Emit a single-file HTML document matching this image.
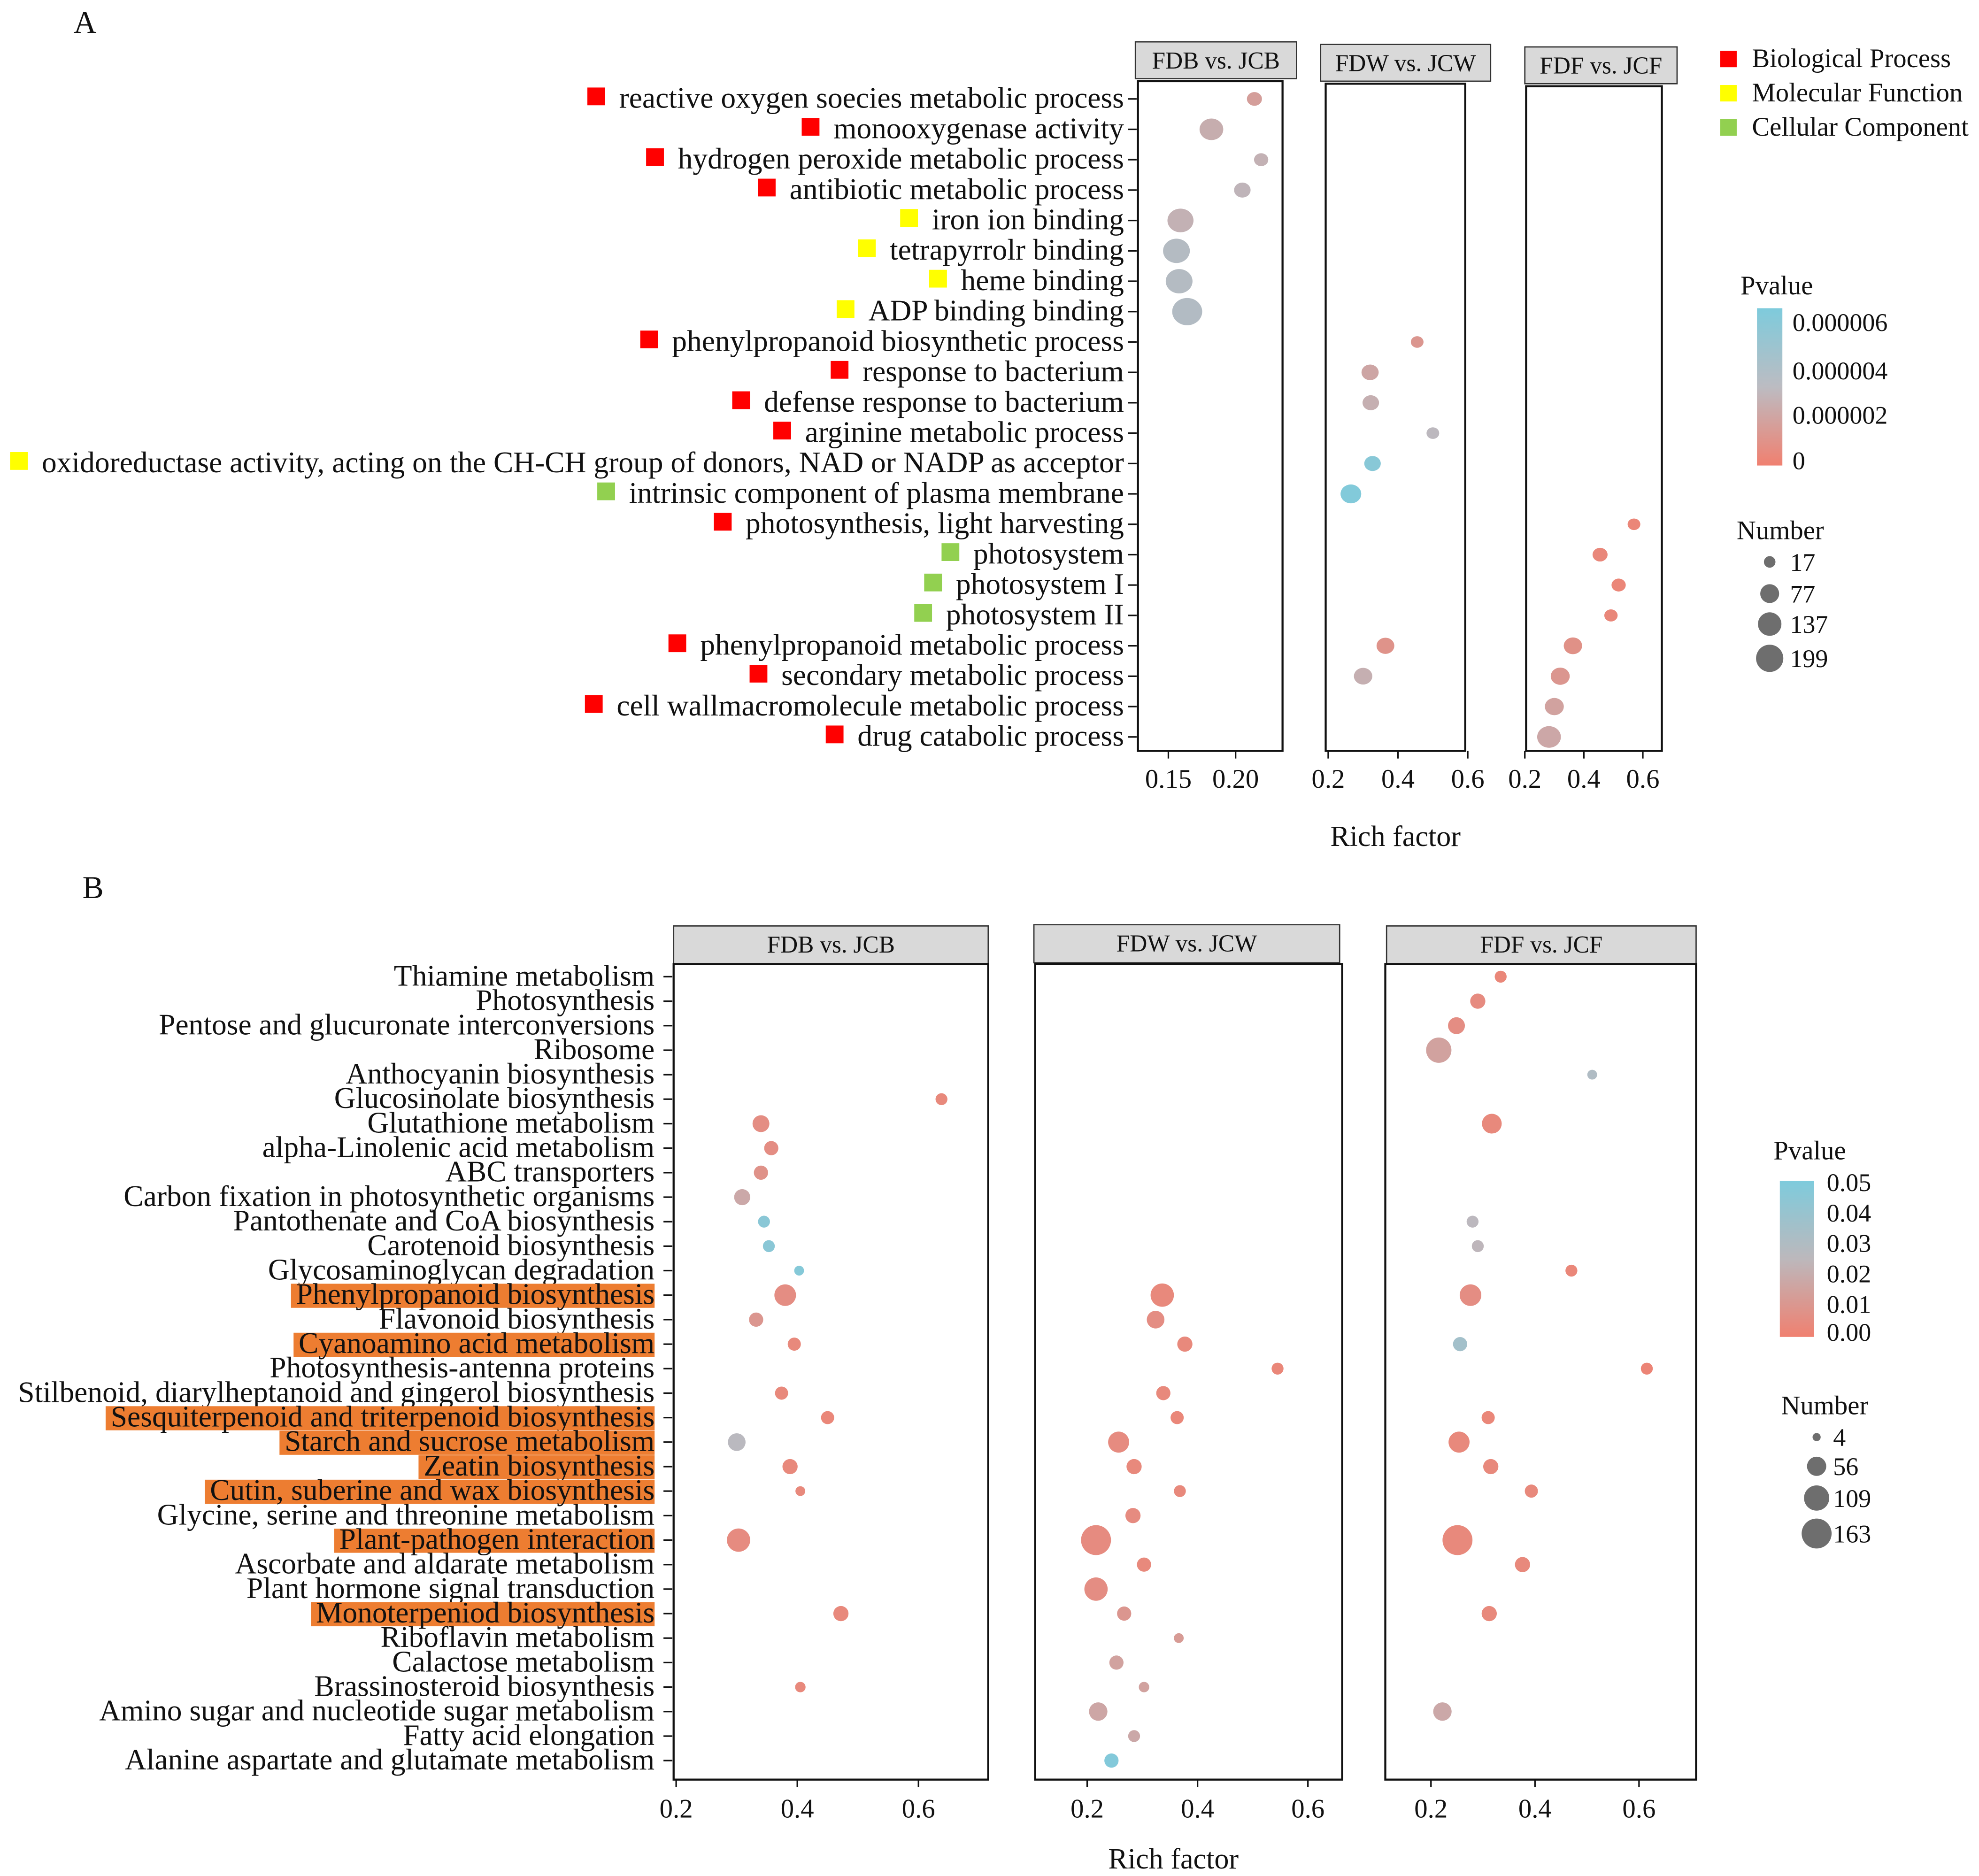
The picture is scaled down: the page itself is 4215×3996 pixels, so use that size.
<!DOCTYPE html>
<html><head><meta charset="utf-8"><style>
html,body{margin:0;padding:0;background:#fff}
svg{display:block}
text{font-family:"Liberation Serif",serif;fill:#111}
</style></head><body>
<svg id="chart" xmlns="http://www.w3.org/2000/svg" width="4215" height="3996" viewBox="0 0 1560 1479" preserveAspectRatio="none">
<rect x="0" y="0" width="1560" height="1479" fill="#fff"/>
<defs>
<linearGradient id="gradA" x1="0" y1="0" x2="0" y2="1"><stop offset="0" stop-color="#7ecbdc"/><stop offset="0.5" stop-color="#bcbcc2"/><stop offset="1" stop-color="#f08070"/></linearGradient>
<linearGradient id="gradB" x1="0" y1="0" x2="0" y2="1"><stop offset="0" stop-color="#7ecbdc"/><stop offset="0.5" stop-color="#bcb8bc"/><stop offset="1" stop-color="#f08070"/></linearGradient>
</defs>
<g id="panelA"></g>
<g id="panelB"></g>
</svg>
<script>
// ---------- Panel A data ----------
const aTerms = ["reactive oxygen soecies metabolic process","monooxygenase activity","hydrogen peroxide metabolic process","antibiotic metabolic process","iron ion binding","tetrapyrrolr binding","heme binding","ADP binding binding","phenylpropanoid biosynthetic process","response to bacterium","defense response to bacterium","arginine metabolic process","oxidoreductase activity, acting on the CH-CH group of donors, NAD or NADP as acceptor","intrinsic component of plasma membrane","photosynthesis, light harvesting","photosystem","photosystem I","photosystem II","phenylpropanoid metabolic process","secondary metabolic process","cell wallmacromolecule metabolic process","drug catabolic process"];
const aCategory = ["BP","BP","BP","BP","MF","MF","MF","MF","BP","BP","BP","BP","MF","CC","BP","CC","CC","CC","BP","BP","BP","BP"];
const aFacets = ["FDB vs. JCB","FDW vs. JCW","FDF vs. JCF"];
const aFacetIdx = [0,0,0,0,0,0,0,0,1,1,1,1,1,1,2,2,2,2,1,2,1,2,2,2];
const aTermIdx  = [0,1,2,3,4,5,6,7,8,9,10,11,12,13,14,15,16,17,18,18,19,19,20,21];
const aRich     = [0.214,0.182,0.219,0.205,0.159,0.156,0.158,0.164,0.455,0.32,0.322,0.50,0.327,0.265,0.57,0.455,0.518,0.492,0.364,0.363,0.30,0.32,0.30,0.282];
const aNumber   = [30,110,25,40,140,150,150,199,17,45,40,17,40,77,17,30,25,20,50,55,55,60,60,110];
const aPvalue   = [1.6,2.4,2.6,2.8,2.6,3.4,3.4,3.5,1.2,2.0,2.5,3.0,5.5,5.8,0.3,0.4,0.3,0.4,1.0,0.9,2.5,1.2,1.8,2.1];
const aXTicks = [[0.15,0.20],[0.2,0.4,0.6],[0.2,0.4,0.6]];
const aXTickLabels = [["0.15","0.20"],["0.2","0.4","0.6"],["0.2","0.4","0.6"]];
const aSizeLegend = [17,77,137,199];
const aPLegend = ["0.000006","0.000004","0.000002","0"];

// ---------- Panel B data ----------
const bTerms = ["Thiamine metabolism","Photosynthesis","Pentose and glucuronate interconversions","Ribosome","Anthocyanin biosynthesis","Glucosinolate biosynthesis","Glutathione metabolism","alpha-Linolenic acid metabolism","ABC transporters","Carbon fixation in photosynthetic organisms","Pantothenate and CoA biosynthesis","Carotenoid biosynthesis","Glycosaminoglycan degradation","Phenylpropanoid biosynthesis","Flavonoid biosynthesis","Cyanoamino acid metabolism","Photosynthesis-antenna proteins","Stilbenoid, diarylheptanoid and gingerol biosynthesis","Sesquiterpenoid and triterpenoid biosynthesis","Starch and sucrose metabolism","Zeatin biosynthesis","Cutin, suberine and wax biosynthesis","Glycine, serine and threonine metabolism","Plant-pathogen interaction","Ascorbate and aldarate metabolism","Plant hormone signal transduction","Monoterpeniod biosynthesis","Riboflavin metabolism","Calactose metabolism","Brassinosteroid biosynthesis","Amino sugar and nucleotide sugar metabolism","Fatty acid elongation","Alanine aspartate and glutamate metabolism"];
const bHighlight = [13,15,18,19,20,21,23,26];
const bFacets = ["FDB vs. JCB","FDW vs. JCW","FDF vs. JCF"];
const bFacetIdx = [2,2,2,2,2, 0, 0,2, 0,0,0, 0,2, 0,2, 0,2, 0,1,2, 0,1, 0,1,2, 1,2, 0,1, 0,1,2, 0,1,2, 0,1,2, 0,1,2, 1, 0,1,2, 1,2, 1, 0,1,2, 1, 1, 0,1, 1,2, 1, 1];
const bTermIdx  = [0,1,2,3,4, 5, 6,6, 7,8,9, 10,10, 11,11, 12,12, 13,13,13, 14,14, 15,15,15, 16,16, 17,17, 18,18,18, 19,19,19, 20,20,20, 21,21,21, 22, 23,23,23, 24,24, 25, 26,26,26, 27, 28, 29,29, 30,30, 31, 32];
const bRich     = [0.334,0.29,0.249,0.215,0.51, 0.638, 0.34,0.317, 0.357,0.34,0.309, 0.345,0.28, 0.353,0.29, 0.403,0.47, 0.38,0.336,0.276, 0.332,0.324, 0.395,0.377,0.256, 0.545,0.615, 0.374,0.338, 0.45,0.363,0.31, 0.30,0.257,0.254, 0.388,0.285,0.315, 0.405,0.368,0.393, 0.283, 0.303,0.216,0.251, 0.303,0.376, 0.216, 0.472,0.267,0.312, 0.366, 0.253, 0.405,0.303, 0.22,0.222, 0.285, 0.244];
const bNumber   = [15,30,40,110,8, 15, 40,60, 25,25,35, 15,15, 15,15, 8,15, 75,90,75, 25,45, 20,30,25, 15,15, 20,25, 20,20,20, 45,70,70, 30,30,30, 8,15,20, 30, 90,163,163, 25,30, 90, 30,25,30, 8, 25, 10,10, 50,50, 15, 25];
const bPvalue   = [0.003,0.005,0.006,0.015,0.03, 0.004, 0.006,0.004, 0.006,0.008,0.018, 0.045,0.025, 0.045,0.024, 0.047,0.003, 0.006,0.004,0.006, 0.01,0.006, 0.004,0.004,0.035, 0.003,0.002, 0.004,0.004, 0.003,0.003,0.003, 0.026,0.005,0.004, 0.004,0.004,0.004, 0.004,0.004,0.004, 0.005, 0.005,0.005,0.004, 0.004,0.004, 0.006, 0.004,0.01,0.004, 0.012, 0.015, 0.004,0.015, 0.017,0.018, 0.018, 0.048];
const bXTickLabels = ["0.2","0.4","0.6"];
const bXTicks = [0.2,0.4,0.6];
const bSizeLegend = [4,56,109,163];
const bPLegend = ["0.05","0.04","0.03","0.02","0.01","0.00"];

// ---------- helpers ----------
const NS="http://www.w3.org/2000/svg";
function mk(parent,tag,attrs,txt){const e=document.createElementNS(NS,tag);for(const k in attrs)e.setAttribute(k,attrs[k]);if(txt!==undefined)e.textContent=txt;parent.appendChild(e);return e;}
function lin(d0,d1,r0,r1){return v=>r0+(v-d0)*(r1-r0)/(d1-d0);}
function mix(c1,c2,t){const a=[1,3,5].map(i=>parseInt(c1.substr(i,2),16)),b=[1,3,5].map(i=>parseInt(c2.substr(i,2),16));return "rgb("+a.map((x,i)=>Math.round(x+(b[i]-x)*t)).join(",")+")";}
function pcolor(t){t=Math.max(0,Math.min(1,t));return t<0.5?mix("#f08070","#bcb8be",t*2):mix("#bcb8be","#7ecbdc",(t-0.5)*2);}

// ---------- Panel A ----------
const A=document.getElementById('panelA');
let t=mk(A,'text',{x:58,y:26,'font-size':25});


t.textContent='A';
const aRowY=lin(0,21,78,581);
const aBox=[{x0:897,x1:1011,strip:[895,1022],y0:64,strY:33},{x0:1045,x1:1155,strip:[1041,1175],y0:66,strY:35},{x0:1203,x1:1310,strip:[1202,1322],y0:68,strY:37}];
const aScale=[lin(0.15,0.20,921,974),lin(0.2,0.6,1047,1157),lin(0.2,0.6,1202,1295)];
const aR=n=>2+0.62*Math.sqrt(n);
const aPC=p=>pcolor(p/6);
aBox.forEach((b,i)=>{
  const g=mk(A,'g',{});
  
  
  const s=mk(g,'rect',{x:b.strip[0],y:b.strY,width:b.strip[1]-b.strip[0],height:b.y0-b.strY-2,fill:'#d9d9d9',stroke:'#333','stroke-width':1});
  
  
  const st=mk(g,'text',{x:(b.strip[0]+b.strip[1])/2,y:b.strY+21,'text-anchor':'middle','font-size':19},aFacets[i]);
  
  
  const r=mk(g,'rect',{x:b.x0,y:b.y0,width:b.x1-b.x0,height:592-b.y0,fill:'none',stroke:'#111','stroke-width':1.6});
  
  
  aXTicks[i].forEach((v,k)=>{
    const x=aScale[i](v);
    mk(g,'line',{x1:x,y1:592,x2:x,y2:598,stroke:'#111','stroke-width':1.2});
    const tl=mk(g,'text',{x:x,y:621,'text-anchor':'middle','font-size':21},aXTickLabels[i][k]);
    
    
  });
});
const catColor={BP:'#ff0000',MF:'#ffff00',CC:'#92d050'};
aTerms.forEach((name,i)=>{
  const y=aRowY(i);
  const tx=mk(A,'text',{x:886,y:y+7,'text-anchor':'end','font-size':23.5},name);
  
  
  mk(A,'line',{x1:889,y1:y,x2:896,y2:y,stroke:'#111','stroke-width':1.2});
  const w=tx.getComputedTextLength();
  const sq=mk(A,'rect',{x:886-w-25,y:y-9,width:14,height:14,fill:catColor[aCategory[i]]});
  
  
});
aRich.forEach((v,i)=>{
  const f=aFacetIdx[i];
  const c=mk(A,'ellipse',{cx:aScale[f](v),cy:aRowY(aTermIdx[i]),rx:aR(aNumber[i])*1.1,ry:aR(aNumber[i]),fill:aPC(aPvalue[i])});
  
  
});
t=mk(A,'text',{x:1100,y:667,'text-anchor':'middle','font-size':23},'Rich factor');


[['Biological Process','BP'],['Molecular Function','MF'],['Cellular Component','CC']].forEach((e,i)=>{
  const y=47+i*27;
  const s=mk(A,'rect',{x:1356,y:y-7,width:13,height:13,fill:catColor[e[1]]});
  
  
  const l=mk(A,'text',{x:1381,y:y+6,'font-size':21},e[0]);
  
  
});
t=mk(A,'text',{x:1372,y:232,'font-size':21},'Pvalue');


t=mk(A,'rect',{x:1385,y:243,width:20,height:124,fill:'url(#gradA)'});


[254,292,327,363].forEach((y,i)=>{
  const l=mk(A,'text',{x:1413,y:y+7,'font-size':20},aPLegend[i]);
  
  
});
t=mk(A,'text',{x:1369,y:425,'font-size':21},'Number');


[443,468,492,519].forEach((y,i)=>{
  const c=mk(A,'circle',{cx:1395,cy:y,r:aR(aSizeLegend[i]),fill:'#6e6e6e'});
  
  
  const l=mk(A,'text',{x:1411,y:y+7,'font-size':20},String(aSizeLegend[i]));
  
  
});

// ---------- Panel B ----------
const B=document.getElementById('panelB');
t=mk(B,'text',{x:65,y:708,'font-size':25},'B');


const bRowY=lin(0,32,770,1388);
const bBox=[{x0:531,x1:779},{x0:816,x1:1058},{x0:1092,x1:1337}];
const bStrip=[[531,779,730],[815,1056,729],[1093,1337,730]];
const bScale=[lin(0.2,0.6,533,724),lin(0.2,0.6,857,1031),lin(0.2,0.6,1128,1292)];
const bR=n=>1.6+0.8*Math.sqrt(n);
const bPC=p=>pcolor(p/0.05);
bBox.forEach((b,i)=>{
  const g=mk(B,'g',{});
  
  
  const s=mk(g,'rect',{x:bStrip[i][0],y:bStrip[i][2],width:bStrip[i][1]-bStrip[i][0],height:30,fill:'#d9d9d9',stroke:'#333','stroke-width':1});
  
  
  const st=mk(g,'text',{x:(bStrip[i][0]+bStrip[i][1])/2,y:bStrip[i][2]+21,'text-anchor':'middle','font-size':19},bFacets[i]);
  
  
  const r=mk(g,'rect',{x:b.x0,y:760,width:b.x1-b.x0,height:643,fill:'none',stroke:'#111','stroke-width':1.6});
  
  
  bXTicks.forEach((v,k)=>{
    const x=bScale[i](v);
    mk(g,'line',{x1:x,y1:1403,x2:x,y2:1409,stroke:'#111','stroke-width':1.2});
    const tl=mk(g,'text',{x:x,y:1433,'text-anchor':'middle','font-size':21},bXTickLabels[k]);
    
    
  });
});
bTerms.forEach((name,i)=>{
  const y=bRowY(i);
  const tx=mk(B,'text',{x:516,y:y+7,'text-anchor':'end','font-size':23.5},name);
  
  
  mk(B,'line',{x1:523,y1:y,x2:530,y2:y,stroke:'#111','stroke-width':1.2});
  if(bHighlight.indexOf(i)>=0){
    const w=tx.getComputedTextLength();
    const h=mk(B,'rect',{x:516-w-4,y:y-9,width:w+4,height:19,fill:'#ed7d31'});
    
    
    B.insertBefore(h,tx);
  }
});
bRich.forEach((v,i)=>{
  const f=bFacetIdx[i];
  const c=mk(B,'circle',{cx:bScale[f](v),cy:bRowY(bTermIdx[i]),r:bR(bNumber[i]),fill:bPC(bPvalue[i])});
  
  
});
t=mk(B,'text',{x:925,y:1473,'text-anchor':'middle','font-size':23},'Rich factor');


t=mk(B,'text',{x:1398,y:914,'font-size':21},'Pvalue');


t=mk(B,'rect',{x:1403,y:931,width:27,height:123,fill:'url(#gradB)'});


[932,956,980,1004,1028,1050].forEach((y,i)=>{
  const l=mk(B,'text',{x:1440,y:y+7,'font-size':20},bPLegend[i]);
  
  
});
t=mk(B,'text',{x:1404,y:1115,'font-size':21},'Number');


[1133,1156,1181,1209].forEach((y,i)=>{
  const c=mk(B,'circle',{cx:1432,cy:y,r:bR(bSizeLegend[i]),fill:'#6e6e6e'});
  
  
  const l=mk(B,'text',{x:1445,y:y+7,'font-size':20},String(bSizeLegend[i]));
  
  
});
</script>
</body></html>
